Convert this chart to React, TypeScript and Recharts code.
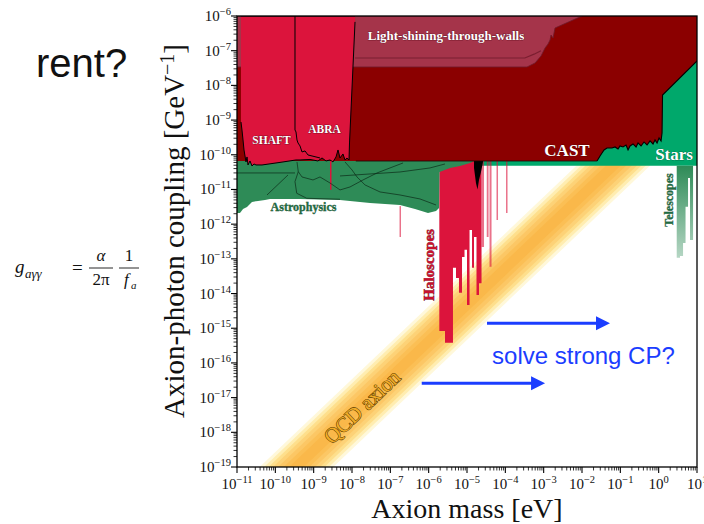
import React from 'react';
import {
  ComposedChart,
  Area,
  Line,
  XAxis,
  YAxis,
  ReferenceDot,
  ReferenceLine,
} from 'recharts';

// All values below are log10 values: mass in eV, coupling in GeV^-1.
const massDecades = [-11, -10, -9, -8, -7, -6, -5, -4, -3, -2, -1, 0, 1];
const couplingDecades = [-19, -18, -17, -16, -15, -14, -13, -12, -11, -10, -9, -8, -7, -6];

// QCD axion band (edges)
const qcdMass = [-11, 1];
const qcdUpper = [-19.62, -7.01];
const qcdLower = [-21.64, -9.03];

// Helioscope (CAST) exclusion, full top block
const castMass = [-11, 1];
const castLow = [-10.18, -10.18];
const castHigh = [-6, -6];

// Light-shining-through-walls
const lswMass = [-11, -3.434, -3.225, -3.069, -2.964, -2.886, -2.834, -2.808, -2.756, -2.704, -2.0];
const lswLow = [-7.47, -7.47, -7.355, -7.153, -6.922, -6.807, -6.692, -6.548, -6.634, -6.346, -6.0];
const lswInnerMass = [-7.92, -3.49, -3.25, -3.07];
const lswInnerCoupling = [-7.21, -7.21, -7.1, -7.0];

// Stars (horizontal branch + upper boundary), the CAST edge is its top
const starsMass = [-11, -1.608, -1.53, -1.425, -1.347, -1.217, -1.138, -1.06, -1.008, -0.93, -0.851, -0.799, -0.747, -0.669, -0.59, -0.538, -0.46, -0.382, -0.303, -0.225, -0.147, -0.095, -0.042, 0.01, 0.062, 0.088, 0.101, 1.0];
const starsTop = [-10.18, -10.18, -10.035, -9.862, -9.804, -9.804, -9.775, -9.833, -9.746, -9.775, -9.718, -9.862, -9.746, -9.689, -9.775, -9.66, -9.746, -9.631, -9.718, -9.602, -9.689, -9.573, -9.66, -9.516, -9.602, -9.372, -8.277, -7.297];
const starsBottom = -10.32;

// Haloscopes: main block (step profile) and faint narrow lines
const haloMass = [-5.722, -5.574, -5.366, -5.287, -5.209, -5.13, -5.065, -5.0, -4.934, -4.869, -4.817, -4.752, -4.687, -4.621];
const haloLow = [-15.08, -15.42, -13.26, -13.55, -13.98, -12.95, -12.74, -14.33, -12.17, -13.26, -12.37, -14.04, -13.7, -10.18];
const haloFaintMass = [-4.621, -4.556, -4.485, -4.438, -4.412, -4.36, -4.23, -4.191, -3.982, -3.943];
const haloFaintLow = [-12.66, -10.18, -12.37, -10.18, -13.23, -10.18, -11.88, -10.18, -11.68, -10.18];
const haloTop = -10.18;
const spikeAMass = [-8.574, -8.535];
const spikeALow = [-11.01, -11.01];
const spikeBMass = [-6.76, -6.721];
const spikeBLow = [-12.37, -12.37];
const spikeBHigh = [-11.48, -11.48];
const admxMass = [-4.817, -4.765, -4.726, -4.687, -4.635, -4.583];
const admxLow = [-10.38, -10.82, -11.0, -10.73, -10.5, -10.21];

// SHAFT + ABRA (low mass haloscopes)
const shaftMass = [-10.896, -10.87, -10.843, -10.817, -10.791, -10.765, -10.739, -10.713, -10.661, -10.609, -10.556, -10.504, -10.348, -9.878, -9.461, -9.356, -9.096, -8.887, -8.782, -8.678, -8.574, -8.496, -8.417, -8.365, -8.313, -8.235, -8.183, -8.13, -8.078, -8.065, -7.921];
const shaftLow = [-9.055, -9.285, -9.573, -9.862, -10.035, -10.207, -10.063, -10.294, -10.179, -10.323, -10.265, -10.294, -10.294, -10.22, -10.15, -10.15, -10.135, -10.179, -10.092, -10.179, -10.15, -10.207, -10.063, -9.862, -10.092, -9.977, -10.15, -10.092, -10.15, -9.66, -6.17];
const abraMass = [-9.487, -9.487, -9.461, -9.435, -9.408, -9.356, -9.304, -9.226, -9.148, -9.043, -8.939, -8.835];
const abraEdge = [-6, -9.285, -9.343, -9.573, -9.66, -9.746, -9.919, -9.89, -10.006, -10.035, -10.063, -10.092];

// Astrophysics
const astroMass = [-11, -10.922, -10.843, -10.739, -10.609, -10.452, -10.27, -10.139, -9.356, -8.313, -7.53, -6.747, -6.356, -6.017, -5.808, -5.73, -5.717, -5.443, -5.182, -4.921, -4.817];
const astroLow = [-11.677, -11.677, -11.562, -11.504, -11.36, -11.33, -11.303, -11.274, -11.274, -11.303, -11.389, -11.447, -11.562, -11.677, -11.62, -11.533, -10.496, -10.38, -10.323, -10.236, -10.18];
const astroTop = -10.18;
const astroLine1Mass = [-11, -9.487];
const astroLine1 = [-10.524, -10.524];
const astroLine2Mass = [-9.435, -9.401, -9.487, -9.442, -9.182, -8.313];
const astroLine2 = [-10.207, -10.487, -10.775, -11.11, -11.254, -11.282];
const astroLine3Mass = [-9.401, -9.304, -9.017, -8.835, -8.574, -8.313, -8.052, -7.713, -7.347, -7.008, -6.669];
const astroLine3 = [-10.487, -10.64, -10.726, -10.64, -10.813, -11.014, -10.928, -10.726, -10.524, -10.38, -10.236];
const astroLine4Mass = [-10.217, -9.669];
const astroLine4 = [-11.159, -10.582];
const astroLine5Mass = [-8.313, -7.53, -6.747, -5.965, -5.574];
const astroLine5 = [-10.611, -10.553, -10.496, -10.38, -10.265];
const astroLine6Mass = [-8.183, -8.0, -7.869, -7.66, -7.269, -6.747, -6.226, -5.808];
const astroLine6 = [-10.207, -10.438, -10.64, -10.87, -11.072, -11.159, -11.274, -11.447];

// Telescopes
const telMass = [0.471, 0.557, 0.636, 0.701, 0.766, 0.818, 0.897];
const telLow = [-12.97, -12.92, -12.54, -11.5, -10.67, -12.46, -10.32];
const telTop = -10.32;

// Arrows ("solve strong CP?")
const arrowA = { from: -4.478, to: -1.269, coupling: -14.856 };
const arrowB = { from: -6.181, to: -2.964, coupling: -16.585 };

const SERIF = '"Liberation Serif", "DejaVu Serif", serif';
const SANS = '"Liberation Sans", Arial, sans-serif';
const BLUE = '#1b3dff';

const rangeData = (mass: number[], low: number[] | number, high: number[] | number) =>
  mass.map((m, i) => ({
    x: m,
    y: [Array.isArray(low) ? low[i] : low, Array.isArray(high) ? high[i] : high],
  }));
const lineData = (mass: number[], vals: number[]) => mass.map((m, i) => ({ x: m, y: vals[i] }));

const minorTicks = (decs: number[]) => {
  const out: number[] = [];
  for (let i = 0; i < decs.length - 1; i++) for (let k = 2; k < 10; k++) out.push(decs[i] + Math.log10(k));
  return out;
};
const xTicks = [...massDecades, ...minorTicks(massDecades)].sort((a, b) => a - b);
const yTicks = [...couplingDecades, ...minorTicks(couplingDecades)].sort((a, b) => a - b);

const isMajor = (v: number) => Math.abs(v - Math.round(v)) < 1e-6;
const expText = (v: number) => (v < 0 ? '\u2212' + Math.abs(Math.round(v)) : String(Math.round(v)));

const XTick = (props: any) => {
  const { x, y, payload } = props;
  const v = payload.value;
  const major = isMajor(v);
  return (
    <g>
      <line x1={x} x2={x} y1={y} y2={y + (major ? 6 : 3.5)} stroke="#000" strokeWidth={major ? 1.1 : 0.8} />
      {major && (
        <text x={x} y={y + 22} textAnchor="middle" fontFamily={SERIF} fontSize={15} fill="#111">
          <tspan>10</tspan>
          <tspan dy={-6} fontSize={10.5}>{expText(v)}</tspan>
        </text>
      )}
    </g>
  );
};

const YTick = (props: any) => {
  const { x, y, payload } = props;
  const v = payload.value;
  const major = isMajor(v);
  return (
    <g>
      <line x1={x - (major ? 6 : 3.5)} x2={x} y1={y} y2={y} stroke="#000" strokeWidth={major ? 1.1 : 0.8} />
      {major && (
        <text x={x - 6} y={y + 5} textAnchor="end" fontFamily={SERIF} fontSize={15} fill="#111">
          <tspan>10</tspan>
          <tspan dy={-6} fontSize={10.5}>{expText(v)}</tspan>
        </text>
      )}
    </g>
  );
};

const qcdLayers = [
  { f: 1.0, color: '#FFF8DA' },
  { f: 0.88, color: '#FFEDB0' },
  { f: 0.76, color: '#FEDF8C' },
  { f: 0.64, color: '#FDD277' },
  { f: 0.5, color: '#FCC765' },
  { f: 0.35, color: '#FBBF55' },
  { f: 0.2, color: '#FAB84A' },
];
const qcdLayerData = (f: number) =>
  qcdMass.map((m, i) => {
    const c = (qcdUpper[i] + qcdLower[i]) / 2;
    const h = (qcdUpper[i] - qcdLower[i]) / 2;
    return { x: m, y: [c - f * h, c + f * h] };
  });

type LabelSpec = {
  text: string;
  x: number;
  y: number;
  size: number;
  fill: string;
  stroke?: string;
  sw?: number;
  bold?: boolean;
  rotate?: number;
  anchor?: 'start' | 'middle' | 'end';
  family?: string;
};
const regionLabels: LabelSpec[] = [
  { text: 'Light-shining-through-walls', x: -5.547, y: -6.576, size: 13, fill: '#fff', stroke: '#4a0010', sw: 0.6, bold: true },
  { text: 'SHAFT', x: -10.1, y: -9.573, size: 11.5, fill: '#fff', stroke: '#4a0010', sw: 0.6, bold: true },
  { text: 'ABRA', x: -8.717, y: -9.256, size: 11.5, fill: '#fff', stroke: '#4a0010', sw: 0.6, bold: true },
  { text: 'CAST', x: -2.391, y: -9.89, size: 17, fill: '#fff', stroke: '#3a0000', sw: 0.5, bold: true },
  { text: 'Stars', x: 0.401, y: -10.006, size: 17, fill: '#fff', stroke: '#004a2c', sw: 0.5, bold: true },
  { text: 'Astrophysics', x: -9.265, y: -11.519, size: 12, fill: '#1f6b42', stroke: '#0d3a20', sw: 0.3, bold: true },
  { text: 'Haloscopes', x: -5.991, y: -13.176, size: 15, fill: '#c8102e', stroke: '#5a0010', sw: 0.5, bold: true, rotate: -90 },
  { text: 'Telescopes', x: 0.271, y: -11.303, size: 12, fill: '#1f6b42', stroke: '#0d3a20', sw: 0.3, bold: true, rotate: -90 },
  { text: 'QCD axion', x: -7.739, y: -17.268, size: 21, fill: '#f0ac28', stroke: '#5c4000', sw: 1.1, rotate: -43.5 },
  { text: 'solve strong CP?', x: -4.347, y: -15.798, size: 24, fill: BLUE, anchor: 'start', family: SANS },
];

const makeLabelShape = (l: LabelSpec) => (p: any) => (
  <text
    x={p.cx}
    y={p.cy}
    textAnchor={l.anchor ?? 'middle'}
    dominantBaseline="central"
    transform={l.rotate ? `rotate(${l.rotate} ${p.cx} ${p.cy})` : undefined}
    fontFamily={l.family ?? SERIF}
    fontWeight={l.bold ? 'bold' : 'normal'}
    fontSize={l.size}
    fill={l.fill}
    stroke={l.stroke ?? 'none'}
    strokeWidth={l.sw ?? 0}
    paintOrder="stroke"
  >
    {l.text}
  </text>
);

const ArrowShape = (p: any) => {
  const { x1, y1, x2, y2 } = p;
  const head = 14;
  const half = 7;
  return (
    <g>
      <line x1={x1} y1={y1} x2={x2 - head + 1} y2={y2} stroke={BLUE} strokeWidth={3} />
      <polygon points={`${x2},${y2} ${x2 - head},${y2 - half} ${x2 - head},${y2 + half}`} fill={BLUE} />
    </g>
  );
};

const areaCommon = { isAnimationActive: false, dot: false, activeDot: false, dataKey: 'y', fillOpacity: 1 } as any;
const lineCommon = { isAnimationActive: false, dot: false, activeDot: false, dataKey: 'y', type: 'linear' } as any;

export default function App() {
  return (
    <div style={{ position: 'absolute', left: 0, top: 0, width: 704, height: 524, background: '#fff' }}>
      <div style={{ position: 'absolute', left: 0, top: 0 }}>
        <ComposedChart width={704} height={524} margin={{ top: 16, right: 7, bottom: 0, left: 0 }}>
          <defs>
            <linearGradient id="telFade" x1="0" y1="0" x2="0" y2="1">
              <stop offset="0%" stopColor="#2E8B57" stopOpacity={1} />
              <stop offset="100%" stopColor="#2E8B57" stopOpacity={0.35} />
            </linearGradient>
          </defs>
          <XAxis
            dataKey="x"
            type="number"
            domain={[-11, 1]}
            allowDataOverflow
            ticks={xTicks}
            interval={0}
            tickLine={false}
            axisLine={false}
            tickSize={0}
            tickMargin={0}
            height={57}
            tick={(p: any) => <XTick {...p} />}
          />
          <YAxis
            type="number"
            domain={[-19, -6]}
            allowDataOverflow
            ticks={yTicks}
            interval={0}
            tickLine={false}
            axisLine={false}
            tickSize={0}
            tickMargin={0}
            width={237}
            tick={(p: any) => <YTick {...p} />}
          />

          {qcdLayers.map((l) => (
            <Area key={'qcd' + l.f} {...areaCommon} type="linear" data={qcdLayerData(l.f)} fill={l.color} stroke="none" />
          ))}

          <Area {...areaCommon} type="linear" data={rangeData(castMass, castLow, castHigh)} fill="#8B0000" stroke="none" />
          <Area {...areaCommon} type="linear" data={rangeData(lswMass, lswLow, -6)} fill="#A5344A" stroke="#6d1b2b" strokeWidth={0.8} />
          <Line {...lineCommon} data={lineData(lswInnerMass, lswInnerCoupling)} stroke="#7B1E30" strokeWidth={1.2} />

          <Area {...areaCommon} type="linear" data={rangeData(starsMass, starsBottom, starsTop)} fill="#00A86B" stroke="none" />

          <Area {...areaCommon} type="stepAfter" data={rangeData(haloMass, haloLow, haloTop)} fill="#DC143C" stroke="none" />
          <Area {...areaCommon} type="stepAfter" data={rangeData(haloFaintMass, haloFaintLow, haloTop)} fill="#DC143C" fillOpacity={0.6} stroke="none" />

          <Area {...areaCommon} type="linear" data={rangeData(astroMass, astroLow, astroTop)} fill="#2E8B57" stroke="none" />
          <Line {...lineCommon} data={lineData(astroLine1Mass, astroLine1)} stroke="#0b2a17" strokeWidth={0.7} />
          <Line {...lineCommon} data={lineData(astroLine2Mass, astroLine2)} stroke="#0b2a17" strokeWidth={0.7} />
          <Line {...lineCommon} data={lineData(astroLine3Mass, astroLine3)} stroke="#0b2a17" strokeWidth={0.7} />
          <Line {...lineCommon} data={lineData(astroLine4Mass, astroLine4)} stroke="#0b2a17" strokeWidth={0.7} />
          <Line {...lineCommon} data={lineData(astroLine5Mass, astroLine5)} stroke="#0b2a17" strokeWidth={0.7} />
          <Line {...lineCommon} data={lineData(astroLine6Mass, astroLine6)} stroke="#0b2a17" strokeWidth={0.7} />

          <Area {...areaCommon} type="linear" data={rangeData(shaftMass, shaftLow, -6)} fill="#DC143C" stroke="#000" strokeWidth={1} />
          <Line {...lineCommon} data={lineData(abraMass, abraEdge)} stroke="#000" strokeWidth={1} />

          <Area {...areaCommon} type="linear" data={rangeData(spikeAMass, spikeALow, haloTop)} fill="#DC143C" stroke="none" />
          <Area {...areaCommon} type="linear" data={rangeData(spikeBMass, spikeBLow, spikeBHigh)} fill="#DC143C" fillOpacity={0.6} stroke="none" />
          <Area {...areaCommon} type="linear" data={rangeData(admxMass, admxLow, haloTop)} fill="#000" stroke="none" />

          <Line {...lineCommon} data={lineData(starsMass.slice(1), starsTop.slice(1))} stroke="#000" strokeWidth={1.1} />
          <Line {...lineCommon} data={lineData([-7.9, -1.608], [-10.18, -10.18])} stroke="#1a0000" strokeWidth={0.8} />

          <Area {...areaCommon} type="stepAfter" data={rangeData(telMass, telLow, telTop)} fill="url(#telFade)" stroke="none" />

          <ReferenceLine
            segment={[{ x: arrowA.from, y: arrowA.coupling }, { x: arrowA.to, y: arrowA.coupling }]}
            shape={ArrowShape}
            ifOverflow="visible"
          />
          <ReferenceLine
            segment={[{ x: arrowB.from, y: arrowB.coupling }, { x: arrowB.to, y: arrowB.coupling }]}
            shape={ArrowShape}
            ifOverflow="visible"
          />

          {regionLabels.map((l) => (
            <ReferenceDot key={l.text} x={l.x} y={l.y} r={0} ifOverflow="visible" shape={makeLabelShape(l)} />
          ))}
        </ComposedChart>
      </div>

      <svg width={704} height={524} style={{ position: 'absolute', left: 0, top: 0, pointerEvents: 'none' }}>
        <rect x={237} y={16} width={460} height={451} fill="none" stroke="#000" strokeWidth={1.3} />
        <text x={184} y={231} transform="rotate(-90 184 231)" textAnchor="middle" fontFamily={SERIF} fontSize={29} fill="#111">
          Axion-photon coupling [GeV
          <tspan dy={-10} fontSize={20}>{'\u22121'}</tspan>
          <tspan dy={10}>]</tspan>
        </text>
        <text x={467} y={518} textAnchor="middle" fontFamily={SERIF} fontSize={28} fill="#111">
          Axion mass [eV]
        </text>
        <text x={36} y={77} fontFamily={SANS} fontSize={40} fill="#111">
          rent?
        </text>
        <g fontFamily={SERIF} fill="#111">
          <text x={15} y={273} fontSize={19} fontStyle="italic">g</text>
          <text x={25} y={278} fontSize={13} fontStyle="italic">{'a\u03b3\u03b3'}</text>
          <text x={72} y={274} fontSize={19}>=</text>
          <text x={101} y={261} fontSize={17} fontStyle="italic" textAnchor="middle">{'\u03b1'}</text>
          <line x1={89} x2={113} y1={268} y2={268} stroke="#111" strokeWidth={0.9} />
          <text x={101} y={285} fontSize={17} textAnchor="middle">{'2\u03c0'}</text>
          <text x={129} y={261} fontSize={17} textAnchor="middle">1</text>
          <line x1={119} x2={139} y1={268} y2={268} stroke="#111" strokeWidth={0.9} />
          <text x={124} y={285} fontSize={17} fontStyle="italic">f</text>
          <text x={131} y={289} fontSize={11} fontStyle="italic">a</text>
        </g>
      </svg>
    </div>
  );
}
